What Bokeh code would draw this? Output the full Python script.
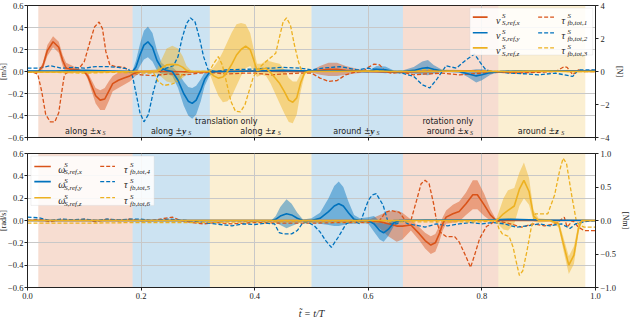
from bokeh.plotting import figure
from bokeh.layouts import column
from bokeh.models import Range1d, LinearAxis, FixedTicker, Label, BoxAnnotation, Arrow
from bokeh.embed import file_html
from bokeh.resources import INLINE

COL = {"x": "#D95319", "y": "#0072BD", "z": "#EDB120"}
SERIF = "Liberation Serif"
SANS = "DejaVu Sans"

# ---------------- axes / ticks ----------------
x_ticks = [0.0, 0.2, 0.4, 0.6, 0.8, 1.0]
x_tick_labels = ["0.0", "0.2", "0.4", "0.6", "0.8", "1.0"]
left_ticks = [-0.6, -0.4, -0.2, 0.0, 0.2, 0.4, 0.6]
left_tick_labels = ["\u22120.6", "\u22120.4", "\u22120.2", "0.0", "0.2", "0.4", "0.6"]
force_ticks = [-4, -2, 0, 2, 4]
force_tick_labels = ["\u22124", "\u22122", "0", "2", "4"]
torque_ticks = [-1.0, -0.5, 0.0, 0.5, 1.0]
torque_tick_labels = ["\u22121.0", "\u22120.5", "0.0", "0.5", "1.0"]

# ---------------- experiment phases ----------------
phase_start = [0.019, 0.185, 0.321, 0.500, 0.661, 0.829]
phase_end = [0.185, 0.321, 0.500, 0.661, 0.829, 0.982]
phase_axis = ["x", "y", "z", "y", "x", "z"]
phase_word = ["along \u00b1", "along \u00b1", "along \u00b1", "around \u00b1", "around \u00b1", "around \u00b1"]
group_text = ["translation only", "rotation only"]
group_x = [0.35, 0.74]

# ---------------- top panel: velocities [m/s] (t, mean, std) ----------------
v_x = [(0.00, 0.0, 0.0), (0.019, 0.0, 0.005), (0.027, 0.05, 0.03), (0.035, 0.19, 0.05), (0.045, 0.27, 0.05),
       (0.055, 0.22, 0.05), (0.062, 0.10, 0.05), (0.068, 0.03, 0.05), (0.080, 0.02, 0.03), (0.090, 0.01, 0.01),
       (0.100, 0.0, 0.01), (0.106, -0.04, 0.03), (0.113, -0.13, 0.05), (0.120, -0.22, 0.07), (0.128, -0.26, 0.09),
       (0.136, -0.25, 0.10), (0.143, -0.18, 0.09), (0.150, -0.11, 0.07), (0.160, -0.08, 0.07), (0.170, -0.06, 0.06),
       (0.180, -0.04, 0.05), (0.190, -0.01, 0.03), (0.20, 0.0, 0.01), (0.25, 0.0, 0.005), (0.30, -0.005, 0.005),
       (0.35, 0.0, 0.005), (0.40, 0.005, 0.005), (0.45, 0.0, 0.005), (0.50, 0.0, 0.01), (0.515, 0.01, 0.04),
       (0.53, 0.02, 0.06), (0.545, 0.02, 0.06), (0.56, 0.01, 0.04), (0.58, 0.005, 0.02), (0.60, 0.0, 0.01),
       (0.65, -0.005, 0.01), (0.70, 0.0, 0.01), (0.75, 0.005, 0.01), (0.80, 0.0, 0.01), (0.85, -0.005, 0.005),
       (0.90, 0.0, 0.005), (0.95, 0.005, 0.005), (1.00, 0.0, 0.005)]
v_y = [(0.00, 0.005, 0.005), (0.05, 0.005, 0.005), (0.10, 0.01, 0.005), (0.15, 0.005, 0.005), (0.185, 0.0, 0.01),
       (0.191, 0.04, 0.06), (0.198, 0.15, 0.10), (0.205, 0.24, 0.13), (0.212, 0.27, 0.14), (0.220, 0.22, 0.13),
       (0.228, 0.10, 0.09), (0.236, 0.03, 0.05), (0.245, 0.01, 0.03), (0.255, 0.0, 0.04), (0.265, -0.08, 0.07),
       (0.275, -0.20, 0.11), (0.283, -0.27, 0.13), (0.290, -0.29, 0.14), (0.297, -0.26, 0.13), (0.305, -0.17, 0.10),
       (0.312, -0.07, 0.06), (0.320, -0.01, 0.03), (0.33, 0.0, 0.01), (0.35, 0.0, 0.005), (0.40, 0.005, 0.005),
       (0.45, 0.01, 0.005), (0.50, 0.005, 0.005), (0.55, 0.005, 0.005), (0.60, 0.0, 0.01), (0.615, 0.02, 0.03),
       (0.63, 0.015, 0.03), (0.645, 0.0, 0.01), (0.66, 0.0, 0.01), (0.68, 0.01, 0.03), (0.695, 0.03, 0.06),
       (0.705, 0.035, 0.07), (0.715, 0.02, 0.04), (0.73, 0.005, 0.01), (0.76, 0.0, 0.01), (0.775, -0.02, 0.03),
       (0.79, -0.04, 0.06), (0.80, -0.03, 0.05), (0.815, -0.01, 0.02), (0.83, 0.0, 0.005), (0.86, 0.005, 0.005),
       (0.90, 0.005, 0.005), (0.95, 0.005, 0.005), (1.00, 0.005, 0.005)]
v_z = [(0.00, -0.005, 0.005), (0.10, -0.005, 0.005), (0.20, 0.0, 0.005), (0.228, 0.0, 0.02), (0.236, 0.03, 0.08),
       (0.245, 0.06, 0.15), (0.255, 0.065, 0.17), (0.265, 0.06, 0.15), (0.273, 0.04, 0.10), (0.280, 0.01, 0.04),
       (0.288, 0.0, 0.01), (0.30, 0.0, 0.005), (0.32, 0.0, 0.01), (0.328, -0.04, 0.08), (0.336, -0.06, 0.16),
       (0.344, -0.05, 0.23), (0.352, 0.0, 0.27), (0.360, 0.07, 0.29), (0.368, 0.15, 0.28), (0.376, 0.20, 0.24),
       (0.384, 0.23, 0.20), (0.392, 0.20, 0.15), (0.398, 0.11, 0.10), (0.404, 0.01, 0.06), (0.412, 0.02, 0.05),
       (0.420, 0.03, 0.07), (0.428, -0.01, 0.10), (0.436, -0.06, 0.14), (0.444, -0.11, 0.18), (0.452, -0.18, 0.20),
       (0.460, -0.26, 0.20), (0.467, -0.28, 0.19), (0.474, -0.24, 0.15), (0.481, -0.10, 0.08), (0.488, -0.01, 0.02),
       (0.495, 0.0, 0.005), (0.55, 0.0, 0.005), (0.60, 0.005, 0.005), (0.65, 0.0, 0.005), (0.70, 0.0, 0.005),
       (0.75, 0.005, 0.005), (0.80, 0.0, 0.005), (0.85, 0.0, 0.005), (0.90, 0.005, 0.005), (0.95, 0.0, 0.005),
       (1.00, 0.0, 0.005)]

# ---------------- top panel: feedback forces [N] (t, value) ----------------
tau_1 = [(0.00, -0.05), (0.010, -0.05), (0.018, -0.15), (0.025, -1.2), (0.032, -2.6), (0.040, -3.05), (0.048, -3.05),
         (0.055, -2.5), (0.060, -1.3), (0.065, -0.2), (0.075, 0.1), (0.090, 0.15), (0.100, 0.6), (0.110, 1.8),
         (0.118, 2.7), (0.126, 3.0), (0.132, 2.6), (0.138, 1.2), (0.145, 0.4), (0.155, 0.3), (0.170, 0.25),
         (0.185, -0.1), (0.200, -0.2), (0.220, -0.25), (0.250, -0.15), (0.280, -0.2), (0.300, -0.1), (0.320, -0.05),
         (0.350, -0.15), (0.380, -0.1), (0.400, -0.1), (0.430, -0.2), (0.450, -0.15), (0.480, -0.1), (0.500, -0.1),
         (0.515, -0.4), (0.530, -0.6), (0.545, -0.55), (0.560, -0.2), (0.575, -0.05), (0.590, 0.0), (0.600, 0.25),
         (0.610, 0.45), (0.620, 0.4), (0.630, 0.0), (0.640, -0.1), (0.660, -0.05), (0.680, -0.2), (0.700, -0.15),
         (0.730, -0.1), (0.760, -0.2), (0.800, -0.1), (0.830, -0.05), (0.860, -0.1), (0.900, -0.05), (0.930, 0.0),
         (0.945, 0.3), (0.950, 0.25), (0.960, -0.2), (0.970, 0.1), (0.980, 0.0), (1.000, 0.1)]
tau_2 = [(0.00, 0.2), (0.02, 0.2), (0.04, 0.35), (0.06, 0.2), (0.08, 0.25), (0.10, 0.2), (0.12, 0.3), (0.14, 0.3),
         (0.16, 0.25), (0.178, 0.15), (0.185, -0.3), (0.191, -1.3), (0.198, -2.5), (0.205, -3.05), (0.213, -2.6),
         (0.221, -1.3), (0.229, -0.3), (0.237, 0.1), (0.248, 0.25), (0.257, 0.35), (0.265, 0.9), (0.272, 2.0),
         (0.280, 2.9), (0.287, 3.25), (0.295, 3.0), (0.303, 2.0), (0.310, 0.9), (0.318, 0.1), (0.33, 0.0),
         (0.35, 0.1), (0.40, 0.15), (0.45, 0.25), (0.48, 0.2), (0.50, 0.1), (0.52, 0.2), (0.55, 0.3), (0.58, 0.1),
         (0.60, 0.2), (0.62, 0.1), (0.64, 0.0), (0.66, -0.1), (0.68, -0.3), (0.695, -0.8), (0.708, -1.0),
         (0.72, -0.5), (0.737, 0.35), (0.755, 0.2), (0.772, 0.7), (0.787, 1.06), (0.798, 0.5), (0.807, 0.1),
         (0.82, 0.0), (0.85, -0.1), (0.88, -0.15), (0.90, -0.2), (0.93, -0.1), (0.96, -0.3), (0.97, 0.1),
         (1.00, 0.1)]
tau_3 = [(0.00, -0.05), (0.05, -0.05), (0.10, -0.1), (0.15, -0.05), (0.20, -0.1), (0.222, -0.1), (0.230, -0.6),
         (0.240, -0.85), (0.255, -0.75), (0.265, -0.6), (0.272, -0.2), (0.278, 0.0), (0.30, 0.0), (0.32, 0.0),
         (0.328, 0.5), (0.336, 0.9), (0.343, 0.4), (0.350, -0.6), (0.358, -1.8), (0.366, -2.4), (0.375, -2.45),
         (0.383, -2.0), (0.390, -1.2), (0.397, -0.4), (0.403, 0.0), (0.410, 0.3), (0.420, 0.6), (0.430, 0.9),
         (0.437, 1.1), (0.443, 2.0), (0.450, 3.0), (0.456, 3.25), (0.463, 2.8), (0.470, 1.6), (0.477, 0.6),
         (0.483, 0.0), (0.50, 0.0), (0.55, 0.05), (0.60, 0.05), (0.65, 0.0), (0.70, 0.1), (0.75, 0.05),
         (0.80, 0.05), (0.85, 0.0), (0.90, 0.05), (0.95, 0.0), (1.00, 0.0)]

# ---------------- bottom panel: angular velocities [rad/s] (t, mean, std) ----------------
w_x = [(0.00, 0.0, 0.0), (0.10, 0.0, 0.0), (0.20, 0.0, 0.0), (0.30, 0.0, 0.0), (0.40, 0.0, 0.0), (0.50, 0.0, 0.0),
       (0.60, 0.0, 0.005), (0.620, -0.01, 0.06), (0.635, -0.03, 0.11), (0.650, -0.05, 0.14), (0.660, -0.05, 0.12),
       (0.675, -0.04, 0.05), (0.690, -0.12, 0.06), (0.700, -0.18, 0.07), (0.710, -0.22, 0.08), (0.718, -0.20, 0.08),
       (0.725, -0.12, 0.07), (0.731, -0.03, 0.06), (0.737, 0.03, 0.06), (0.749, 0.06, 0.08), (0.760, 0.08, 0.09),
       (0.772, 0.15, 0.10), (0.784, 0.23, 0.13), (0.792, 0.23, 0.13), (0.804, 0.14, 0.10), (0.815, 0.05, 0.05),
       (0.825, 0.0, 0.01), (0.85, 0.0, 0.005), (0.90, 0.0, 0.005), (0.95, 0.0, 0.005), (1.00, 0.0, 0.005)]
w_y = [(0.00, 0.0, 0.0), (0.20, 0.0, 0.0), (0.40, 0.0, 0.0), (0.430, 0.0, 0.005), (0.437, 0.01, 0.03),
       (0.445, 0.04, 0.08), (0.456, 0.06, 0.13), (0.465, 0.05, 0.10), (0.475, 0.02, 0.05), (0.485, 0.0, 0.01),
       (0.500, 0.0, 0.02), (0.515, 0.02, 0.05), (0.530, 0.08, 0.12), (0.540, 0.13, 0.18), (0.548, 0.15, 0.20),
       (0.556, 0.13, 0.17), (0.565, 0.07, 0.10), (0.575, 0.01, 0.04), (0.585, 0.0, 0.02), (0.600, 0.0, 0.03),
       (0.610, -0.03, 0.07), (0.620, -0.09, 0.08), (0.627, -0.11, 0.08), (0.635, -0.08, 0.06), (0.645, -0.02, 0.03),
       (0.655, 0.0, 0.01), (0.70, 0.005, 0.005), (0.80, 0.005, 0.005), (0.85, 0.01, 0.005), (0.90, 0.005, 0.005),
       (1.00, 0.0, 0.005)]
w_z = [(0.00, 0.0, 0.0), (0.40, 0.0, 0.0), (0.80, 0.0, 0.0), (0.825, 0.0, 0.01), (0.830, 0.02, 0.06),
       (0.838, 0.06, 0.14), (0.846, 0.09, 0.18), (0.857, 0.13, 0.16), (0.866, 0.28, 0.15), (0.874, 0.36, 0.16),
       (0.883, 0.26, 0.12), (0.891, 0.04, 0.05), (0.900, 0.0, 0.02), (0.920, 0.0, 0.01), (0.935, -0.03, 0.03),
       (0.944, -0.22, 0.06), (0.953, -0.40, 0.08), (0.962, -0.31, 0.08), (0.970, -0.07, 0.04), (0.976, 0.0, 0.01),
       (1.00, 0.0, 0.005)]

# ---------------- bottom panel: feedback torques [Nm] (t, value) ----------------
tau_4 = [(0.00, 0.0), (0.02, 0.02), (0.04, -0.02), (0.06, 0.02), (0.08, 0.0), (0.10, 0.02), (0.12, -0.02),
         (0.14, 0.02), (0.16, 0.0), (0.18, 0.02), (0.20, 0.0), (0.22, 0.0), (0.24, 0.03), (0.255, 0.05),
         (0.27, 0.0), (0.29, -0.03), (0.31, -0.05), (0.33, -0.03), (0.36, -0.05), (0.40, -0.03), (0.45, -0.04),
         (0.50, -0.04), (0.55, -0.03), (0.60, -0.03), (0.62, 0.0), (0.63, 0.12), (0.64, 0.15), (0.655, 0.12),
         (0.665, 0.0), (0.675, 0.0), (0.685, 0.3), (0.693, 0.55), (0.700, 0.6), (0.707, 0.55), (0.715, 0.25),
         (0.720, 0.0), (0.726, -0.17), (0.737, -0.24), (0.752, -0.24), (0.760, -0.32), (0.772, -0.54),
         (0.780, -0.7), (0.787, -0.52), (0.796, -0.27), (0.808, -0.09), (0.825, 0.0), (0.85, -0.05), (0.87, -0.1),
         (0.89, -0.05), (0.91, -0.08), (0.93, -0.05), (0.945, 0.05), (0.950, -0.1), (0.96, 0.0), (0.97, -0.1),
         (0.98, -0.15), (1.00, -0.15)]
tau_5 = [(0.00, 0.05), (0.02, 0.04), (0.04, 0.0), (0.06, 0.02), (0.08, 0.01), (0.10, 0.02), (0.12, 0.0),
         (0.14, 0.02), (0.16, 0.01), (0.18, 0.02), (0.20, 0.02), (0.22, 0.0), (0.25, 0.02), (0.28, 0.0),
         (0.30, -0.02), (0.33, -0.05), (0.36, -0.08), (0.38, -0.05), (0.40, -0.06), (0.42, -0.04), (0.435, -0.05),
         (0.443, -0.18), (0.450, -0.2), (0.465, -0.2), (0.475, -0.15), (0.485, -0.03), (0.495, -0.03),
         (0.505, -0.08), (0.515, -0.17), (0.525, -0.3), (0.535, -0.4), (0.547, -0.25), (0.561, -0.05),
         (0.573, 0.0), (0.585, -0.05), (0.600, 0.3), (0.607, 0.38), (0.614, 0.4), (0.626, 0.23), (0.634, 0.0),
         (0.640, -0.05), (0.650, -0.05), (0.660, 0.0), (0.670, -0.05), (0.690, -0.08), (0.700, -0.1),
         (0.720, -0.05), (0.740, -0.08), (0.760, -0.05), (0.780, -0.03), (0.800, -0.05), (0.820, -0.03),
         (0.840, -0.05), (0.860, -0.1), (0.880, -0.08), (0.900, -0.05), (0.920, -0.08), (0.940, -0.05),
         (0.955, -0.12), (0.965, -0.05), (0.980, -0.02), (1.000, 0.0)]
tau_6 = [(0.00, -0.04), (0.10, -0.04), (0.20, -0.03), (0.30, -0.03), (0.40, -0.02), (0.50, -0.02), (0.60, -0.02),
         (0.70, -0.02), (0.80, -0.02), (0.825, 0.0), (0.830, -0.12), (0.836, -0.2), (0.848, -0.24), (0.855, -0.4),
         (0.860, -0.6), (0.866, -0.82), (0.872, -0.75), (0.879, -0.47), (0.887, -0.1), (0.894, 0.1), (0.916, 0.1),
         (0.928, 0.38), (0.937, 0.75), (0.943, 0.93), (0.949, 0.85), (0.958, 0.38), (0.966, 0.0), (0.972, -0.07),
         (0.98, -0.1), (1.00, -0.1)]

top_legend = [("v", "S,ref,x", "x", "solid"), ("v", "S,ref,y", "y", "solid"), ("v", "S,ref,z", "z", "solid"),
              ("\u03c4", "fb,tot,1", "x", "dashed"), ("\u03c4", "fb,tot,2", "y", "dashed"), ("\u03c4", "fb,tot,3", "z", "dashed")]
bot_legend = [("\u03c9", "S,ref,x", "x", "solid"), ("\u03c9", "S,ref,y", "y", "solid"), ("\u03c9", "S,ref,z", "z", "solid"),
              ("\u03c4", "fb,tot,4", "x", "dashed"), ("\u03c4", "fb,tot,5", "y", "dashed"), ("\u03c4", "fb,tot,6", "z", "dashed")]

DASH = "4 2"
INK = "#222222"


def style_axis(ax, tick_size="9px", lab_size="9px", lab_standoff=2, tick_standoff=2):
    ax.axis_line_color = INK
    ax.major_tick_line_color = INK
    ax.major_tick_out = 3
    ax.major_tick_in = 0
    ax.minor_tick_line_color = None
    ax.major_label_text_font = SERIF
    ax.major_label_text_font_size = tick_size
    ax.major_label_text_color = INK
    ax.major_label_standoff = tick_standoff
    ax.axis_label_text_font = SERIF
    ax.axis_label_text_font_size = lab_size
    ax.axis_label_text_font_style = "normal"
    ax.axis_label_text_color = INK
    ax.axis_label_standoff = lab_standoff


def make_fig(height, b_top, b_bottom, ylab, rlab, r_ticks, r_labels, r_range, show_x):
    p = figure(width=640, height=height, x_range=Range1d(0, 1), y_range=Range1d(-0.6, 0.6),
               output_backend="svg", toolbar_location=None,
               min_border_left=35, min_border_right=35, min_border_top=b_top, min_border_bottom=b_bottom)
    p.extra_y_ranges = {"r": Range1d(*r_range)}
    p.outline_line_color = INK
    p.outline_line_width = 1
    p.background_fill_color = "white"
    p.border_fill_color = "white"

    lax = p.left[0]
    lax.ticker = FixedTicker(ticks=left_ticks)
    lax.major_label_overrides = dict(zip(left_ticks, left_tick_labels))
    lax.axis_label = ylab
    style_axis(lax, tick_size="8.5px", lab_size="8px", lab_standoff=-3, tick_standoff=1)

    rax = LinearAxis(y_range_name="r", ticker=FixedTicker(ticks=r_ticks),
                     major_label_overrides=dict(zip(r_ticks, r_labels)), axis_label=rlab)
    style_axis(rax, tick_size="8.5px", lab_size="8px", lab_standoff=2, tick_standoff=2)
    p.add_layout(rax, "right")

    xax = p.below[0]
    xax.ticker = FixedTicker(ticks=x_ticks)
    xax.major_label_overrides = dict(zip(x_ticks, x_tick_labels))
    style_axis(xax, tick_size="8.5px")
    if not show_x:
        xax.major_label_text_color = None
        xax.major_label_text_font_size = "1px"
        xax.major_label_standoff = 0
    else:
        xax.axis_label = "t\u0303 = t/T"
        xax.axis_label_text_font_style = "italic"
        xax.axis_label_text_font_size = "10px"
        xax.axis_label_standoff = 6

    p.xgrid.ticker = FixedTicker(ticks=x_ticks)
    p.ygrid.ticker = FixedTicker(ticks=left_ticks)
    for g in (p.xgrid[0], p.ygrid[0]):
        g.grid_line_color = "#c8c8c8"
        g.grid_line_width = 1
    # phase backgrounds
    p.quad(left=phase_start, right=phase_end, bottom=-0.6, top=0.6,
           fill_color=[COL[a] for a in phase_axis], fill_alpha=0.2, line_color=None, level="image")
    return p


def draw_series(p, solids, dashed):
    for data, key in solids:
        t = [d[0] for d in data]
        m = [d[1] for d in data]
        s = [d[2] for d in data]
        p.varea(x=t, y1=[a - b for a, b in zip(m, s)], y2=[a + b for a, b in zip(m, s)],
                fill_color=COL[key], fill_alpha=0.45)
    for data, key in dashed:
        p.line([d[0] for d in data], [d[1] for d in data], y_range_name="r",
               line_color=COL[key], line_width=1.3, line_dash=DASH)
    for data, key in solids:
        p.line([d[0] for d in data], [d[1] for d in data], line_color=COL[key], line_width=1.6)


def draw_legend(p, entries, box, rows, cols):
    left, right, top, bottom = box
    p.add_layout(BoxAnnotation(left=left, right=right, top=top, bottom=bottom, fill_color="white",
                               fill_alpha=0.85, line_color="#cfcfcf", line_width=1))
    for i, (sym, sub, key, style) in enumerate(entries):
        c = i // 3
        y = rows[i % 3]
        x0, x1, xl = cols[c]
        p.add_layout(Arrow(end=None, x_start=x0, y_start=y, x_end=x1, y_end=y, line_color=COL[key],
                           line_width=1.6 if style == "solid" else 1.3,
                           line_dash="solid" if style == "solid" else DASH))
        p.add_layout(Label(x=xl, y=y, y_offset=-3, text=sym, text_font=SERIF, text_font_style="italic",
                           text_font_size="10px", text_color=INK, text_baseline="alphabetic"))
        p.add_layout(Label(x=xl, y=y, x_offset=6, y_offset=1, text="S", text_font=SERIF,
                           text_font_style="italic", text_font_size="7px", text_color=INK,
                           text_baseline="alphabetic"))
        p.add_layout(Label(x=xl, y=y, x_offset=6, y_offset=-6, text=sub, text_font=SERIF,
                           text_font_style="italic", text_font_size="7px", text_color=INK,
                           text_baseline="alphabetic"))


p1 = make_fig(145, 5, 8, "[m/s]", "[N]", force_ticks, force_tick_labels, (-4, 4), False)
p2 = make_fig(183, 8, 41, "[rad/s]", "[Nm]", torque_ticks, torque_tick_labels, (-1, 1), True)

draw_series(p1, [(v_x, "x"), (v_y, "y"), (v_z, "z")], [(tau_1, "x"), (tau_2, "y"), (tau_3, "z")])
draw_series(p2, [(w_x, "x"), (w_y, "y"), (w_z, "z")], [(tau_4, "x"), (tau_5, "y"), (tau_6, "z")])

# phase annotations in the top panel
for s, e, a, w in zip(phase_start, phase_end, phase_axis, phase_word):
    cx = (s + e) / 2
    half = (len(w) * 4.6 + 10) / 2
    p1.add_layout(Label(x=cx, y=-0.545, x_offset=half - 10, text=w, text_align="right", text_font=SANS,
                        text_font_size="8px", text_color=INK, text_baseline="alphabetic"))
    p1.add_layout(Label(x=cx, y=-0.545, x_offset=half - 10, text=a, text_align="left", text_font=SERIF,
                        text_font_style="bold italic", text_font_size="9px", text_color=INK,
                        text_baseline="alphabetic"))
    p1.add_layout(Label(x=cx, y=-0.545, x_offset=half - 4, y_offset=-2, text="S", text_align="left",
                        text_font=SERIF, text_font_style="italic", text_font_size="6px", text_color=INK,
                        text_baseline="alphabetic"))
for gt, gx in zip(group_text, group_x):
    p1.add_layout(Label(x=gx, y=-0.455, text=gt, text_align="center", text_font=SANS, text_font_size="8px",
                        text_color=INK, text_baseline="alphabetic"))

draw_legend(p1, top_legend, (0.779, 0.995, 0.577, 0.150), [0.494, 0.352, 0.215],
            [(0.784, 0.810, 0.825), (0.899, 0.927, 0.940)])
draw_legend(p2, bot_legend, (0.006, 0.223, 0.577, 0.135), [0.484, 0.348, 0.204],
            [(0.012, 0.041, 0.054), (0.128, 0.154, 0.170)])

layout = column(p1, p2, spacing=0)
layout.margin = (0, 0, 0, -8)

open("out.html", "w").write(file_html(layout, INLINE))
